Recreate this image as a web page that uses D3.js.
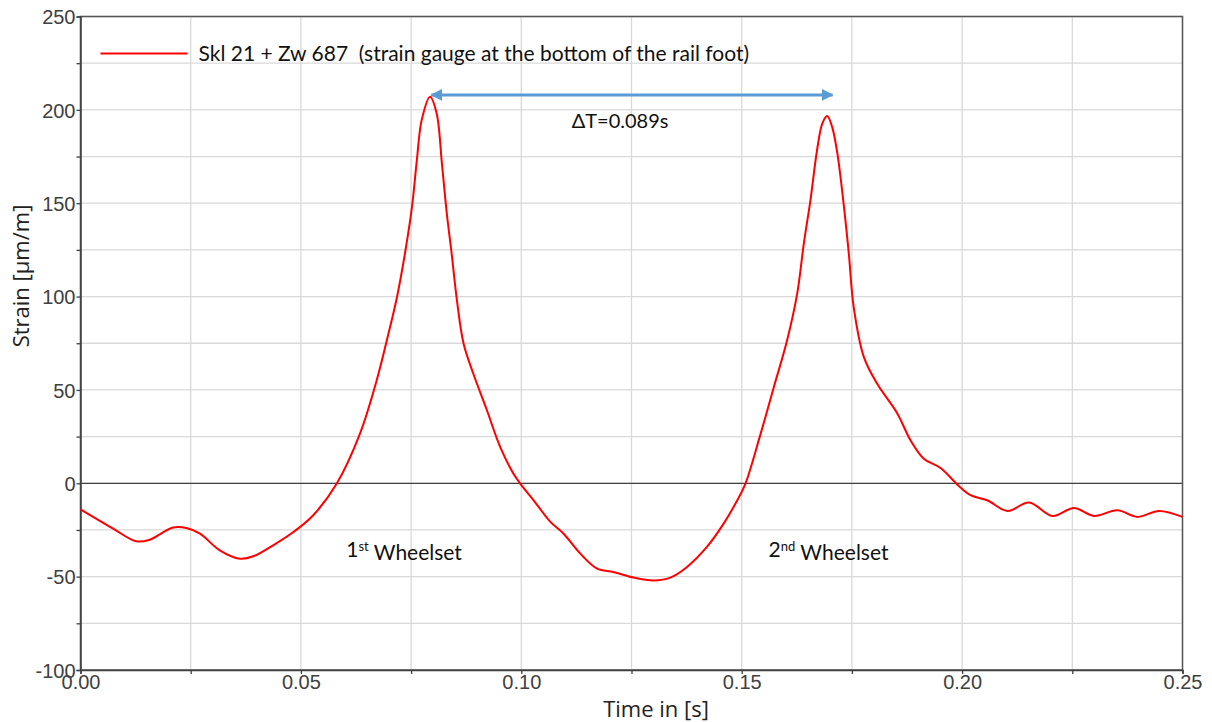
<!DOCTYPE html>
<html>
<head>
<meta charset="utf-8">
<script src="https://cdn.jsdelivr.net/npm/d3@7"></script>
<style>
  body { margin: 0; background: #fff; }
  svg { display: block; }
</style>
</head>
<body>
<script>
var time = [0, 0.0074, 0.0127, 0.0157, 0.021, 0.024, 0.0271, 0.0316, 0.0362, 0.0392, 0.0437, 0.0483, 0.0528, 0.0581,
  0.0634, 0.0672, 0.0695, 0.0718, 0.0736, 0.0752, 0.0763, 0.0774, 0.0793, 0.0808, 0.082, 0.0831, 0.0842, 0.0854,
  0.0869, 0.0891, 0.0922, 0.0952, 0.0982, 0.0998, 0.1028, 0.1066, 0.1096, 0.1134, 0.1172, 0.1209, 0.1255, 0.13,
  0.1338, 0.1376, 0.1421, 0.1459, 0.149, 0.1508, 0.1543, 0.1573, 0.1603, 0.1626, 0.1641, 0.1656, 0.1671, 0.1683,
  0.1694, 0.1705, 0.1717, 0.1732, 0.1743, 0.1754, 0.1777, 0.1807, 0.1853, 0.1883, 0.1913, 0.1951, 0.1995, 0.2019,
  0.2057, 0.2103, 0.2152, 0.2205, 0.2254, 0.2299, 0.2352, 0.2398, 0.2447, 0.25];
var strain = [-14, -24.3, -31.1, -30.2, -23.7, -24, -27, -35.9, -40.4, -39.1, -33.2, -26.1, -17.1, -0.3,
  26.6, 55.2, 76.6, 99.8, 123, 148, 173, 194.5, 207, 198, 171, 144.5, 123, 98,
  74.9, 58.8, 39.1, 19.5, 5.2, -0.3, -9.1, -20.7, -27, -37.7, -45.7, -47.5, -50.5, -52,
  -50.5, -44.8, -34.1, -21.6, -9.1, -0.5, 26.6, 51.6, 76.6, 101.7, 128.5, 151.7, 178.5, 192.8,
  196.7, 191, 176.7, 148, 123, 94.5, 67.7, 53.4, 37.4, 23, 13.2, 8.2, -2, -6.4,
  -9.1, -14.8, -10.3, -17.5, -13.2, -17.5, -14.5, -18, -14.8, -18];

var xTicks = [0, 0.05, 0.10, 0.15, 0.20, 0.25];
var yTicks = [-100, -50, 0, 50, 100, 150, 200, 250];
var seriesName = "Skl 21 + Zw 687  (strain gauge at the bottom of the rail foot)";
// arrow between the two peaks
var arrowT = [0.0796, 0.1706];
var arrowV = 208;

var W = 1212, H = 722;
var margin = {top: 16.5, right: 29.5, bottom: 52, left: 80.5};
var width = W - margin.left - margin.right;
var height = H - margin.top - margin.bottom;

var x = d3.scaleLinear().domain([0, 0.25]).range([0, width]);
var y = d3.scaleLinear().domain([-100, 250]).range([height, 0]);

var svg = d3.select("body").append("svg")
    .attr("width", W)
    .attr("height", H);

var defs = svg.append("defs");
defs.append("marker")
    .attr("id", "arr")
    .attr("viewBox", "0 0 10 10")
    .attr("refX", 9).attr("refY", 5)
    .attr("markerWidth", 4).attr("markerHeight", 4)
    .attr("orient", "auto-start-reverse")
  .append("path")
    .attr("d", "M0,0 L10,5 L0,10 z")
    .attr("fill", "#5b9bd5");

var g = svg.append("g")
    .attr("transform", "translate(" + margin.left + "," + margin.top + ")");

// grid every 0.025 s and 25 µm/m
var gridX = d3.range(0, 0.2501, 0.025);
var gridY = d3.range(-100, 251, 25);
g.selectAll(".gx").data(gridX).enter().append("line")
    .attr("x1", function(d) { return x(d); }).attr("x2", function(d) { return x(d); })
    .attr("y1", 0).attr("y2", height)
    .attr("stroke", "#d9d9d9").attr("stroke-width", 1.3);
g.selectAll(".gy").data(gridY).enter().append("line")
    .attr("x1", 0).attr("x2", width)
    .attr("y1", function(d) { return y(d); }).attr("y2", function(d) { return y(d); })
    .attr("stroke", "#d9d9d9").attr("stroke-width", 1.3);

// zero line
g.append("line")
    .attr("x1", 0).attr("x2", width)
    .attr("y1", y(0)).attr("y2", y(0))
    .attr("stroke", "#404040").attr("stroke-width", 1.3);

// frame
g.append("rect")
    .attr("width", width).attr("height", height)
    .attr("fill", "none").attr("stroke", "#555").attr("stroke-width", 1.5);

// axes
var yAxis = g.append("g")
    .call(d3.axisLeft(y).tickValues(gridY).tickSize(4)
      .tickFormat(function(d) { return yTicks.indexOf(d) >= 0 ? d : ""; }));
var xAxis = g.append("g")
    .attr("transform", "translate(0," + height + ")")
    .call(d3.axisBottom(x).tickValues(gridX).tickSize(4)
      .tickFormat(function(d) {
        var hit = xTicks.filter(function(t) { return Math.abs(t - d) < 1e-9; });
        return hit.length ? d3.format(".2f")(d) : "";
      }));
[xAxis, yAxis].forEach(function(a) {
  a.select(".domain").attr("stroke", "#404040").attr("stroke-width", 1.5);
  a.selectAll(".tick line").attr("stroke", "#404040").attr("stroke-width", 1.3);
  a.selectAll("text")
    .attr("font-family", "'Liberation Sans', Arial, sans-serif")
    .attr("font-size", "20px")
    .attr("fill", "#404040");
});
yAxis.selectAll("text").attr("x", -5).attr("dy", "0.36em");
xAxis.selectAll("text").attr("y", 4).attr("dy", "0.75em");

// the signal
var line = d3.line()
    .x(function(d, i) { return x(time[i]); })
    .y(function(d) { return y(d); })
    .curve(d3.curveCatmullRom.alpha(0.5));
g.append("path")
    .datum(strain)
    .attr("d", line)
    .attr("fill", "none")
    .attr("stroke", "#ff0000")
    .attr("stroke-width", 2);

// legend
g.append("line")
    .attr("x1", 20).attr("x2", 107)
    .attr("y1", 37).attr("y2", 37)
    .attr("stroke", "#ff0000").attr("stroke-width", 2);
g.append("text")
    .attr("x", 118).attr("y", 44)
    .attr("font-family", "Lato, 'Open Sans', sans-serif")
    .attr("font-size", "21px")
    .attr("fill", "#111")
    .attr("xml:space", "preserve")
    .style("white-space", "pre")
    .text(seriesName);

// delta T arrow
g.append("line")
    .attr("x1", x(arrowT[0])).attr("x2", x(arrowT[1]))
    .attr("y1", y(arrowV)).attr("y2", y(arrowV))
    .attr("stroke", "#5b9bd5").attr("stroke-width", 3)
    .attr("marker-start", "url(#arr)")
    .attr("marker-end", "url(#arr)");
g.append("text")
    .attr("x", x(0.1224)).attr("y", 111)
    .attr("text-anchor", "middle")
    .attr("font-family", "Lato, 'Open Sans', sans-serif")
    .attr("font-size", "20px")
    .attr("fill", "#111")
    .text("ΔT=0.089s");

// wheelset labels
function wheelset(t, num, sup) {
  var tx = g.append("text")
      .attr("x", x(t)).attr("y", 540)
      .attr("text-anchor", "middle")
      .attr("font-family", "Lato, 'Open Sans', sans-serif")
      .attr("font-size", "21px")
      .attr("fill", "#111");
  tx.append("tspan").text(num);
  tx.append("tspan").attr("dy", "-0.45em").attr("font-size", "13px").text(sup);
  tx.append("tspan").attr("dy", "0.45em").text(" Wheelset");
}
wheelset(0.0734, "1", "st");
wheelset(0.1697, "2", "nd");

// axis titles
svg.append("text")
    .attr("x", 656).attr("y", 717)
    .attr("text-anchor", "middle")
    .attr("font-family", "'Open Sans', 'Noto Sans', sans-serif")
    .attr("font-size", "22px")
    .attr("fill", "#222")
    .text("Time in [s]");
svg.append("text")
    .attr("transform", "translate(29,276) rotate(-90)")
    .attr("text-anchor", "middle")
    .attr("font-family", "'Open Sans', 'Noto Sans', sans-serif")
    .attr("font-size", "22px")
    .attr("fill", "#222")
    .text("Strain [µm/m]");
</script>
</body>
</html>
